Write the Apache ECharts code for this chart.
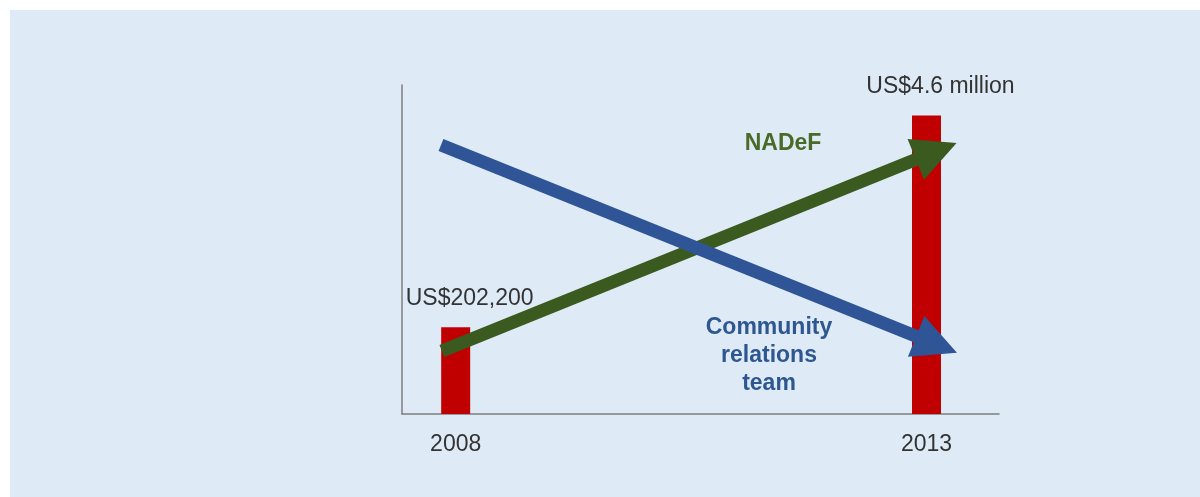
<!DOCTYPE html>
<html><head><meta charset="utf-8">
<script src="https://cdn.jsdelivr.net/npm/echarts@6/dist/echarts.min.js"></script>
<style>html,body{margin:0;padding:0;background:#fff}#c{width:1200px;height:497px}</style>
</head><body><div id="c"></div><script>
// Data (bar heights are illustrative, as drawn in the reference — not to scale)
const years = [2008, 2013];
const tickLabels = ['2008', '2013'];
const barHeights = [26.4, 90.7];
const valueLabels = ['US$202,200', 'US$4.6 million'];
const nadefArrow = [[2007.854, 19.15], [2013.103, 79.88]];
const communityArrow = [[2007.844, 81.76], [2013.107, 21.12]];
const nadefText = 'NADeF';
const communityText = 'Community\nrelations\nteam';

const FONT = '"Liberation Sans", Arial, sans-serif';
const chart = echarts.init(document.getElementById('c'));
chart.setOption({
  animation: false,
  graphic: [
    { type: 'rect', left: 10, top: 10, shape: { width: 1190, height: 487 }, style: { fill: '#deebf7' }, z: -10, silent: true },
    { type: 'text', x: 783, y: 144, style: { text: nadefText, font: 'bold 23px ' + FONT, fill: '#4a6a27', textAlign: 'center', textVerticalAlign: 'middle' }, z: 10 },
    { type: 'text', x: 769, y: 356, style: { text: communityText, font: 'bold 23px ' + FONT, fill: '#2e5790', textAlign: 'center', textVerticalAlign: 'middle', lineHeight: 28 }, z: 10 }
  ],
  grid: { left: 402, right: 201, top: 85, bottom: 83, containLabel: false },
  xAxis: {
    type: 'value', min: 2007.43, max: 2013.77,
    splitLine: { show: false }, axisTick: { show: false },
    axisLine: { show: true, lineStyle: { color: '#7f7f7f', width: 1.5 } },
    axisLabel: {
      customValues: years, margin: 19, fontSize: 23, fontFamily: FONT, color: '#333',
      formatter: v => tickLabels[years.indexOf(Math.round(v))] || ''
    }
  },
  yAxis: {
    type: 'value', min: 0, max: 100,
    splitLine: { show: false }, axisTick: { show: false }, axisLabel: { show: false },
    axisLine: { show: true, lineStyle: { color: '#7f7f7f', width: 1.5 } }
  },
  series: [
    {
      type: 'bar', data: years.map((y, i) => [y, barHeights[i]]), barWidth: 29,
      itemStyle: { color: '#c00000' },
      label: {
        show: true, position: 'top', offset: [14, -12],
        formatter: p => valueLabels[p.dataIndex],
        fontSize: 23, fontFamily: FONT, color: '#333'
      },
      z: 2
    },
    {
      type: 'lines', coordinateSystem: 'cartesian2d', z: 3,
      symbol: ['none', 'triangle'], symbolSize: [43, 44],
      lineStyle: { color: '#3b5a1f', width: 13, opacity: 1, curveness: 0 },
      data: [{ coords: nadefArrow }]
    },
    {
      type: 'lines', coordinateSystem: 'cartesian2d', z: 4,
      symbol: ['none', 'triangle'], symbolSize: [43, 44],
      lineStyle: { color: '#2f5597', width: 13, opacity: 1, curveness: 0 },
      data: [{ coords: communityArrow }]
    }
  ]
});
</script></body></html>
